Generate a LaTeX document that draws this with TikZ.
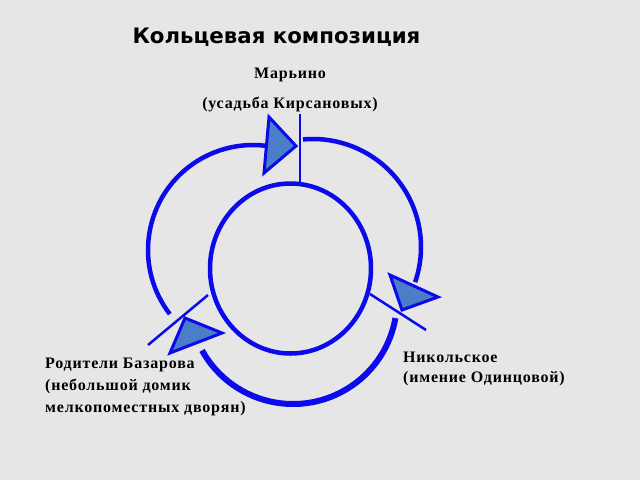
\documentclass[tikz,border=0pt]{standalone}
\usepackage{fontspec}
\setmainfont{Liberation Serif}
\newfontfamily\titlefont{DejaVu Sans}
\newfontfamily\lblfont[LetterSpace=5]{Liberation Serif}
\definecolor{bgc}{RGB}{230,230,230}
\definecolor{ringblue}{RGB}{10,10,235}
\definecolor{trifill}{RGB}{75,125,200}
\tikzset{
  ring/.style={draw=ringblue, line width=4.5pt},
  thickring/.style={draw=ringblue, line width=6pt},
  tick/.style={draw=ringblue, line width=2.5pt},
  tri/.style={draw=ringblue, fill=trifill, line width=3pt, line join=miter},
  lbl/.style={inner sep=0pt, font=\lblfont\bfseries\fontsize{16}{19}\selectfont},
  ttl/.style={inner sep=0pt, font=\titlefont\bfseries\fontsize{21.3}{25}\selectfont}
}
\begin{document}
\begin{tikzpicture}[x=1pt,y=-1pt]
\fill[bgc] (0,0) rectangle (640,480);
\useasboundingbox (0,0) rectangle (640,480);
% centres
\coordinate (cin) at (290.5,268.5);
\coordinate (ctl) at (253,250);
\coordinate (crt) at (313,247);
\coordinate (cbt) at (293,300);
% outer arcs
\draw[ring] ([shift={(142.4:105)}]ctl) arc[start angle=142.4, end angle=277, radius=105];
\draw[ring] ([shift={(-95.3:108)}]crt) arc[start angle=-95.3, end angle=19, radius=108];
\draw[thickring] ([shift={(10:104)}]cbt) arc[start angle=10, end angle=151, radius=104];
% inner circle
\draw[ring] (cin) ellipse[x radius=80.5, y radius=85];
% ticks
\coordinate (t1a) at (300,114); \coordinate (t1b) at (300,183);
\coordinate (t2a) at (148,345); \coordinate (t2b) at (208,295);
\coordinate (t3a) at (370,294); \coordinate (t3b) at (426,330);
\draw[tick] (t1a) -- (t1b);
\draw[tick] (t2a) -- (t2b);
\draw[tick] (t3a) -- (t3b);
% arrow triangles
\draw[tri] (269,117) -- (264,173) -- (296,146) -- cycle;
\draw[tri] (185,318) -- (170,353) -- (222,333) -- cycle;
\draw[tri] (390,275) -- (402,310) -- (438,297) -- cycle;
% texts
\node[ttl, anchor=base] (title) at (276.5,43) {Кольцевая композиция};
\node[lbl, anchor=base] (m1) at (290,78) {Марьино};
\node[lbl, anchor=base] (m2) at (290,108) {(усадьба Кирсановых)};
\node[lbl, anchor=base west] (n1) at (403,362) {Никольское};
\node[lbl, anchor=base west] (n2) at (403,382) {(имение Одинцовой)};
\node[lbl, anchor=base west] (r1) at (45,368) {Родители Базарова};
\node[lbl, anchor=base west] (r2) at (45,390) {(небольшой домик};
\node[lbl, anchor=base west] (r3) at (45,412) {мелкопоместных дворян)};
\end{tikzpicture}
\end{document}
